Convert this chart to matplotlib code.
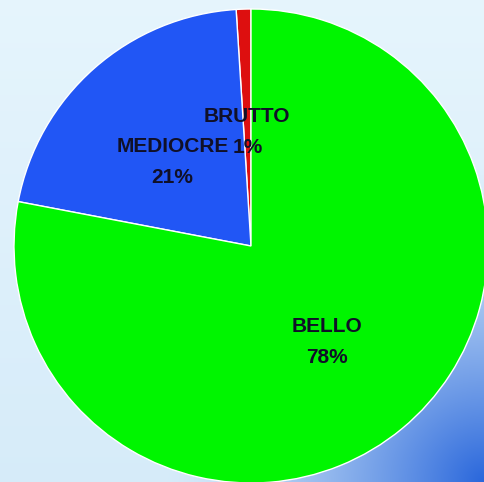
import numpy as np
import matplotlib.pyplot as plt

# slice data (counter-clockwise from the top)
labels = ['BRUTTO', 'MEDIOCRE', 'BELLO']
values = [1, 21, 78]
colors = ['#dd0f0f', '#2156f5', '#00f500']

fig = plt.figure(figsize=(4.84, 4.82), dpi=100)

# gradient background: pale blue, turning deep blue near the bottom-right corner
bg = fig.add_axes([0, 0, 1, 1])
bg.set_axis_off()
px, py = np.meshgrid(np.arange(484), np.arange(482))
d = np.hypot(484 - px, 482 - py)
s = np.clip(1 - d / 320, 0, 1) ** 1.4
light = np.array([0.90, 0.96, 0.99]) - 0.06 * (py / 482)[..., None] * np.array([1, 0.6, 0.2])
dark = np.array([0.16, 0.40, 0.86])
img = light + (dark - light) * s[..., None]
bg.imshow(img, extent=[0, 1, 0, 1], origin='upper', aspect='auto')

ax = fig.add_axes([0, 0, 1, 1])
ax.patch.set_alpha(0)
wedges, _ = ax.pie(values, colors=colors, startangle=90, counterclock=True,
                   wedgeprops=dict(edgecolor='white', linewidth=1.0))
ax.set_aspect('auto')
ax.set_xlim(-251 / 237, (484 - 251) / 237)
ax.set_ylim(-(482 - 246) / 237, 246 / 237)
ax.set_axis_off()

# labels near half radius, name on top, percentage below
for w, name, v in zip(wedges, labels, values):
    mid = np.radians((w.theta1 + w.theta2) / 2)
    x, y = 0.5 * np.cos(mid), 0.5 * np.sin(mid) - 0.02
    style = dict(ha='center', va='center', fontsize=15, fontweight='bold',
                 family='Liberation Sans', color='#101028')
    ax.text(x, y + 0.065, name, **style)
    ax.text(x, y - 0.065, f'{v}%', **style)

fig.savefig('out.png', dpi=100)
